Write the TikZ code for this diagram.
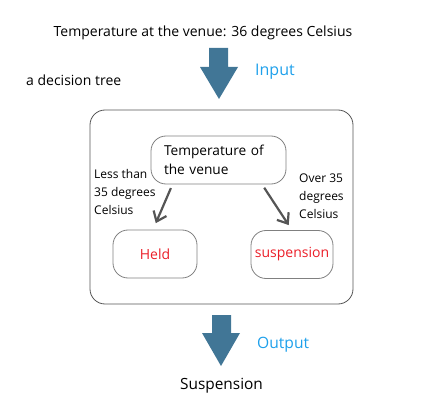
\documentclass[tikz,border=0pt]{standalone}
\usepackage{fontspec}
\setmainfont{Open Sans}
\usetikzlibrary{arrows.meta,positioning,calc}
\definecolor{flowblue}{RGB}{65,118,150}
\definecolor{labelblue}{RGB}{30,160,235}
\definecolor{termred}{RGB}{235,30,40}
\definecolor{linegray}{RGB}{85,85,85}

\begin{document}
\begin{tikzpicture}[x=1pt,y=-1pt,
    box/.style={draw=linegray,rounded corners=15pt,line width=0.8pt},
    leaf node/.style={box,draw=gray,minimum width=84pt,minimum height=48pt,text=termred,font=\fontsize{14}{16}\selectfont},
    note/.style={align=left,font=\fontsize{12}{18}\selectfont,inner sep=0pt},
    plain/.style={font=\fontsize{14}{16}\selectfont,inner sep=0pt},
    tag/.style={plain,text=labelblue,font=\fontsize{16}{18}\selectfont},
    big arrow/.style={fill=flowblue},
    branch/.style={-{Straight Barb[length=9pt,width=14pt]},line width=2.2pt,draw=linegray}]
  \useasboundingbox (0,0) rectangle (429,412);

  % input and output
  \node[plain] (venue) at (203,33) {Temperature at the venue: 36 degrees Celsius};
  \node[tag,anchor=west] (input) at (255,72) {Input};
  \node[plain,anchor=west] (title) at (26,80) {a decision tree};
  \node[tag,anchor=west,font=\fontsize{15.6}{18}\selectfont] (output) at (257,345) {Output};
  \node[plain,font=\fontsize{15.4}{18}\selectfont] (result) at (221.5,386) {Suspension};

  \fill[big arrow] (209,48) -- (228,48) -- (228,67) -- (238,67) -- (219,99)
    -- (200,67) -- (209,67) -- cycle;
  \fill[big arrow] (212,315) -- (231,315) -- (231,333) -- (240,333) -- (221,366)
    -- (202,333) -- (212,333) -- cycle;

  % the tree
  \node[box,minimum width=263pt,minimum height=194pt] (tree) at (221.5,207) {};
  \node[box,draw=gray,minimum width=135pt,minimum height=48pt,inner xsep=13pt,
    text width=109pt,align=left,font=\fontsize{13.7}{19}\selectfont] (root) at (218.5,160) {Temperature of\\the venue};
  \node[leaf node] (held) at (155,254) {Held};
  \node[leaf node,minimum width=82pt] (stop) at (292,254.5) {suspension};

  \node[note,anchor=west] (less) at (94,192) {Less than\\35 degrees\\Celsius};
  \node[note,anchor=west] (over) at (299,196) {Over 35\\degrees\\Celsius};

  \draw[branch,shorten <=4pt,shorten >=7pt] ($(root.south)+(-46,0)$) -- ($(held.north)+(-2,0)$);
  \draw[branch,shorten <=4pt,shorten >=6pt] ($(root.south)+(43.5,0)$) -- ($(stop.north)+(0,0)$);
\end{tikzpicture}
\end{document}
